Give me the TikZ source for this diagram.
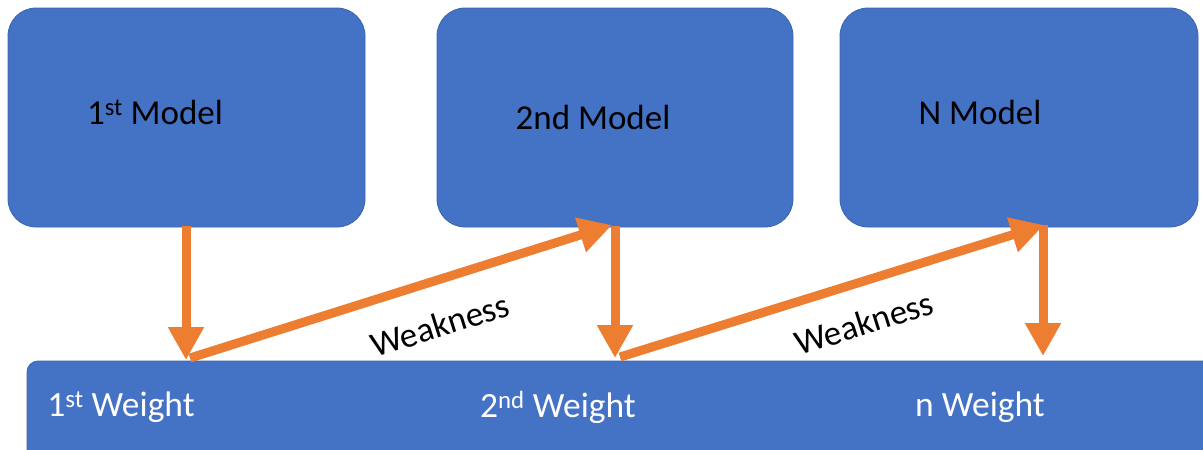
\documentclass[tikz,border=0pt]{standalone}
\usepackage{fontspec}
\setmainfont{Carlito}
\usetikzlibrary{arrows.meta}
\definecolor{boxblue}{HTML}{4472C4}
\definecolor{boxedge}{HTML}{3A64B0}
\definecolor{arrorange}{HTML}{ED7D31}
\begin{document}
\begin{tikzpicture}[x=1pt,y=-1pt,
  modelbox/.style={draw=boxedge,line width=0.8pt,fill=boxblue,rounded corners=28pt},
  modeltext/.style={text=black,font=\fontsize{35}{40}\selectfont,anchor=center},
  weighttext/.style={text=white,font=\fontsize{35.5}{40}\selectfont,anchor=center},
  flow/.style={draw=arrorange,line width=9pt,-{Triangle[width=34pt,length=33pt]}},
  weaklabel/.style={text=black,font=\fontsize{35}{40}\selectfont,rotate=17.5,inner sep=0pt}]
\useasboundingbox (0,0) rectangle (1203,450);
\clip (0,0) rectangle (1203,450);
\fill[white] (0,0) rectangle (1203,450);

% model boxes
\draw[modelbox] (8,8) rectangle (365,227);
\draw[modelbox] (437,8) rectangle (793,227);
\draw[modelbox] (840,8) rectangle (1198,227);
% weight bar, running past the right and bottom edges
\draw[draw=boxedge,line width=0.8pt,fill=boxblue,rounded corners=11pt] (27,361) rectangle (1240,490);

\node[modeltext] (m1) at (155,112) {1\textsuperscript{st} Model};
\node[modeltext] (m2) at (593,117) {2nd Model};
\node[modeltext] (m3) at (980,112) {N Model};
\node[weighttext] (w1) at (121,407) {1\textsuperscript{st} Weight};
\node[weighttext] (w2) at (558,407) {2\textsuperscript{nd} Weight};
\node[weighttext] (w3) at (980,407) {n Weight};

% arrow end points on the box edges
\coordinate (a1) at (186,226);
\coordinate (b1) at (186,360);
\coordinate (c1) at (190,358);
\coordinate (d1) at (612,225);
\coordinate (a2) at (615,226);
\coordinate (b2) at (615,358);
\coordinate (c2) at (620,357);
\coordinate (d2) at (1044,225);
\coordinate (a3) at (1043,225);
\coordinate (b3) at (1043,356);

\draw[flow] (a1) -- (b1);
\draw[flow] (c1) -- (d1);
\draw[flow] (a2) -- (b2);
\draw[flow] (c2) -- (d2);
\draw[flow] (a3) -- (b3);

% labels under the diagonal arrows
\node[weaklabel] (k1) at (440,325) {Weakness};
\node[weaklabel] (k2) at (864,323) {Weakness};
\end{tikzpicture}
\end{document}
